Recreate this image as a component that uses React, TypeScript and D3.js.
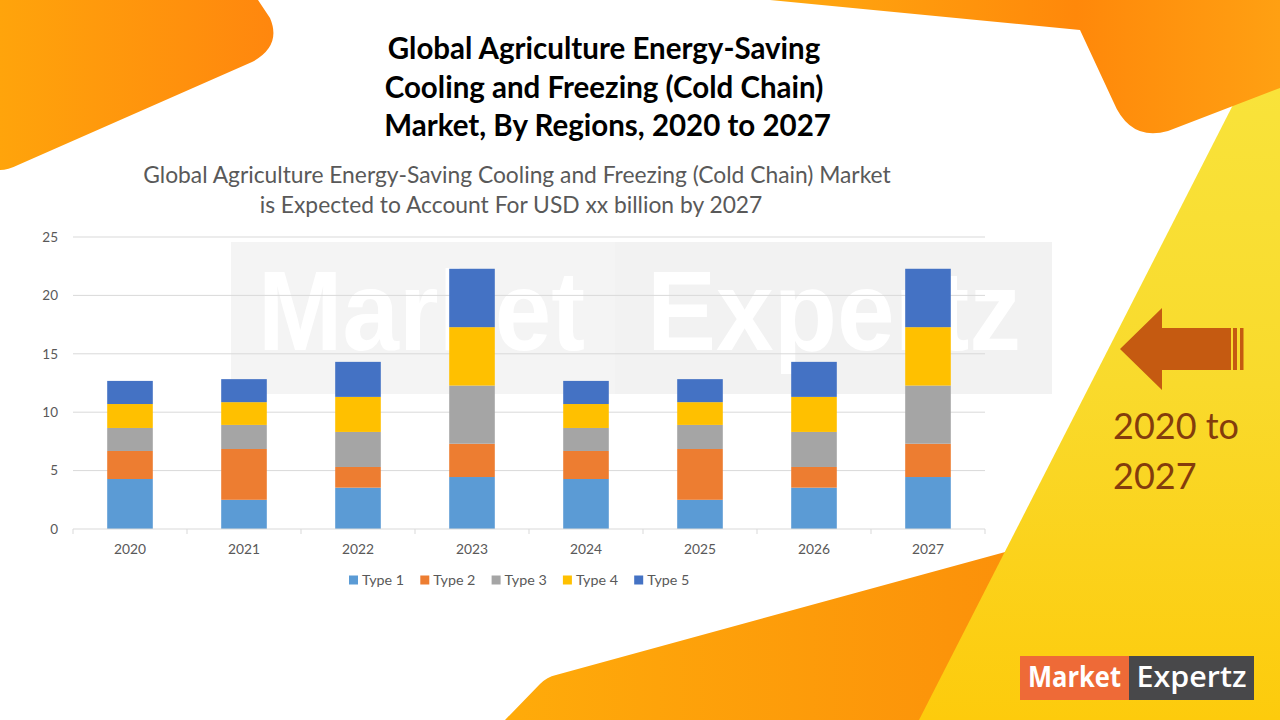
import React from "react";
import * as d3 from "d3";

const years = ["2020", "2021", "2022", "2023", "2024", "2025", "2026", "2027"];
const type1 = [4.28, 2.5, 3.54, 4.45, 4.28, 2.5, 3.54, 4.45];
const type2 = [2.4, 4.35, 1.77, 2.85, 2.4, 4.35, 1.77, 2.85];
const type3 = [1.97, 2.06, 3.0, 4.98, 1.97, 2.06, 3.0, 4.98];
const type4 = [2.05, 1.95, 3.0, 5.0, 2.05, 1.95, 3.0, 5.0];
const type5 = [1.98, 1.97, 3.0, 5.0, 1.98, 1.97, 3.0, 5.0];
const seriesNames = ["Type 1", "Type 2", "Type 3", "Type 4", "Type 5"];
const seriesColors = ["#5B9BD5", "#ED7D31", "#A5A5A5", "#FFC000", "#4472C4"];
const yTicks = [0, 5, 10, 15, 20, 25];

const titleLines = [
  "Global Agriculture Energy-Saving",
  "Cooling and Freezing (Cold Chain)",
  " Market, By Regions, 2020 to 2027",
];
const subtitleLines = [
  "Global Agriculture Energy-Saving Cooling and Freezing (Cold Chain) Market",
  "is Expected to Account For USD xx billion by 2027",
];

const FONT = "Lato, 'Open Sans', sans-serif";

export default function App() {
  const left = 73, right = 985, top = 237, bottom = 529;
  const x = d3.scaleBand<string>().domain(years).range([left, right]).paddingInner(0.6).paddingOuter(0.3);
  const y = d3.scaleLinear().domain([0, 25]).range([bottom, top]);
  const rows = years.map((yr, i) => ({
    year: yr,
    "Type 1": type1[i],
    "Type 2": type2[i],
    "Type 3": type3[i],
    "Type 4": type4[i],
    "Type 5": type5[i],
  }));
  const stacked = d3.stack<any>().keys(seriesNames)(rows);
  const boundaries = d3.range(years.length + 1).map((i) => left + (i * (right - left)) / years.length);

  return (
    <svg width={1280} height={720} style={{ position: "absolute", left: 0, top: 0, background: "#fff" }}>
      <defs>
        <linearGradient id="gTL" x1="0" x2="280" y1="0" y2="0" gradientUnits="userSpaceOnUse">
          <stop offset="0" stopColor="#FFA40B" />
          <stop offset="1" stopColor="#FF860E" />
        </linearGradient>
        <linearGradient id="gTR" x1="770" x2="1280" y1="0" y2="0" gradientUnits="userSpaceOnUse">
          <stop offset="0" stopColor="#FFAA10" />
          <stop offset="0.6" stopColor="#FF880A" />
          <stop offset="1" stopColor="#FFA012" />
        </linearGradient>
        <linearGradient id="gBot" x1="505" x2="1100" y1="0" y2="0" gradientUnits="userSpaceOnUse">
          <stop offset="0" stopColor="#FFAB0A" />
          <stop offset="1" stopColor="#FB8C0A" />
        </linearGradient>
        <linearGradient id="gY" x1="0" x2="0" y1="50" y2="720" gradientUnits="userSpaceOnUse">
          <stop offset="0" stopColor="#F9E43C" />
          <stop offset="0.5" stopColor="#F9DA2C" />
          <stop offset="1" stopColor="#FDCB0C" />
        </linearGradient>
      </defs>

      {/* background shapes */}
      <path d="M0,0 L258,0 L270,18 Q282,46 252,62 L18,165 Q8,170 0,170 Z" fill="url(#gTL)" />
      <path d="M505,720 L540,684 Q547,677 556,675 L1100,526 L1100,720 Z" fill="url(#gBot)" />
      <path d="M1261,50 L1280,50 L1280,720 L919,720 Z" fill="url(#gY)" />
      <path d="M770,0 L1080,30 L1113,101 Q1130,142 1168,131 L1280,88 L1280,0 Z" fill="url(#gTR)" />

      {/* watermark */}
      <rect x={231} y={242} width={821} height={152} fill="#F4F4F4" />
      <rect x={615} y={242} width={437} height={152} fill="#F2F2F2" />
      <text x={258} y={350} fontFamily="'Liberation Sans', Arial, sans-serif" fontWeight="bold" fontSize={114}
        fill="#FFFFFF" textLength={327} lengthAdjust="spacingAndGlyphs">Market</text>
      <text x={647} y={350} fontFamily="'Liberation Sans', Arial, sans-serif" fontWeight="bold" fontSize={114}
        fill="#FFFFFF" textLength={374} lengthAdjust="spacingAndGlyphs">Expertz</text>

      {/* titles */}
      {titleLines.map((t, i) => (
        <text key={i} x={604} y={59 + i * 38.5} textAnchor="middle" fontFamily={FONT} fontWeight="bold"
          fontSize={29.5} fill="#000" style={{ whiteSpace: "pre" }}>{t}</text>
      ))}
      {subtitleLines.map((t, i) => (
        <text key={i} x={517 - i * 6} y={183 + i * 30} textAnchor="middle" fontFamily={FONT}
          fontSize={22.8} fill="#595959">{t}</text>
      ))}

      {/* gridlines */}
      {yTicks.filter((v) => v > 0).map((v) => (
        <line key={v} x1={left} x2={right} y1={y(v)} y2={y(v)} stroke="#D9D9D9" strokeWidth={1} />
      ))}
      {yTicks.map((v) => (
        <text key={v} x={58} y={y(v)} dy="0.35em" textAnchor="end" fontFamily={FONT} fontSize={13.5} fill="#595959">{v}</text>
      ))}

      {/* bars */}
      {stacked.map((s, si) => (
        <g key={s.key} fill={seriesColors[si]}>
          {s.map((d, i) => (
            <rect key={i} x={x(years[i])} y={y(d[1])} width={x.bandwidth()} height={y(d[0]) - y(d[1])} />
          ))}
        </g>
      ))}

      {/* x axis */}
      <line x1={left} x2={right} y1={bottom} y2={bottom} stroke="#D9D9D9" />
      {boundaries.map((b, i) => (
        <line key={i} x1={b} x2={b} y1={bottom} y2={bottom + 5} stroke="#D9D9D9" />
      ))}
      {years.map((yr) => (
        <text key={yr} x={(x(yr) as number) + x.bandwidth() / 2} y={554} textAnchor="middle" fontFamily={FONT}
          fontSize={13.8} fill="#595959">{yr}</text>
      ))}

      {/* legend */}
      {seriesNames.map((n, i) => (
        <g key={n} transform={`translate(${349 + i * 71.3},580)`}>
          <rect x={0} y={-4.5} width={9} height={9} fill={seriesColors[i]} />
          <text x={13} y={0} dy="0.35em" fontFamily={FONT} fontSize={14.3} fill="#595959">{n}</text>
        </g>
      ))}

      {/* arrow */}
      <path d="M1120,349 L1162,308 L1162,328 L1231,328 L1231,370 L1162,370 L1162,390 Z" fill="#C55A11" />
      <rect x={1233} y={328} width={4} height={42} fill="#C55A11" />
      <rect x={1240} y={328} width={3.5} height={42} fill="#C55A11" />
      <text x={1113} y={439} fontFamily={FONT} fontSize={36} fill="#843C0C">2020 to</text>
      <text x={1113} y={489} fontFamily={FONT} fontSize={36} fill="#843C0C">2027</text>

      {/* logo */}
      <rect x={1020} y={656} width={109} height={44} fill="#EE6A37" />
      <rect x={1129} y={656} width={125} height={44} fill="#48484A" />
      <text x={1074.5} y={687} textAnchor="middle" fontFamily="'Open Sans', sans-serif" fontWeight="bold" fontSize={29}
        fill="#FFFFFF" textLength={93} lengthAdjust="spacingAndGlyphs">Market</text>
      <text x={1191.5} y={687} textAnchor="middle" fontFamily="'Open Sans', sans-serif" fontWeight="600" fontSize={29}
        fill="#FFFFFF" textLength={110} lengthAdjust="spacingAndGlyphs">Expertz</text>
    </svg>
  );
}
